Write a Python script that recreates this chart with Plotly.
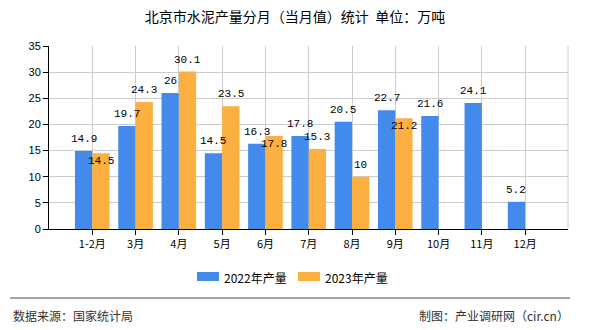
import plotly.graph_objects as go

categories = ["1-2月", "3月", "4月", "5月", "6月", "7月", "8月", "9月", "10月", "11月", "12月"]
y2022 = [14.9, 19.7, 26, 14.5, 16.3, 17.8, 20.5, 22.7, 21.6, 24.1, 5.2]
y2023 = [14.5, 24.3, 30.1, 23.5, 17.8, 15.3, 10, 21.2, None, None, None]
name2022 = "2022年产量"
name2023 = "2023年产量"

# label vertical shifts (px) for overlap avoidance
shift2022 = [12] * 11
shift2023 = [-8, 12, 12, 12, -8, 12, 12, -8, 12, 12, 12]

BLUE = "#428BEC"
ORANGE = "#FCB041"
CJK = "Noto Sans CJK SC"
MONO = "Liberation Mono"

L, R, T, B = 49, 568, 46, 229
W, H = R - L, B - T


def px(x):
    return (x - L) / W


def py(y):
    return (B - y) / H


fig = go.Figure()
fig.add_trace(go.Bar(x=categories, y=y2022, name=name2022, marker_color=BLUE, marker_line_width=0))
fig.add_trace(go.Bar(x=categories, y=y2023, name=name2023, marker_color=ORANGE, marker_line_width=0))

ann = []
for i, v in enumerate(y2022):
    if v is not None:
        ann.append(dict(x=i - 0.2, y=v, text=f"{v:g}", showarrow=False, yanchor="middle",
                        yshift=shift2022[i], font=dict(family=MONO, size=11, color="#000")))
for i, v in enumerate(y2023):
    if v is not None:
        ann.append(dict(x=i + 0.2, y=v, text=f"{v:g}", showarrow=False, yanchor="middle",
                        yshift=shift2023[i], font=dict(family=MONO, size=11, color="#000")))

ann.append(dict(xref="paper", yref="paper", x=px(11), y=py(315), xanchor="left", yanchor="middle",
                text="数据来源：国家统计局", showarrow=False, font=dict(family=CJK, size=12, color="#333")))
ann.append(dict(xref="paper", yref="paper", x=px(571), y=py(315), xanchor="right", yanchor="middle",
                text="制图：产业调研网（cir.cn）", showarrow=False, font=dict(family=CJK, size=12, color="#333")))

# manual legend
shapes = [
    dict(type="line", xref="paper", yref="paper", x0=1, x1=1, y0=0, y1=1, line=dict(color="#cccccc", width=1)),
    dict(type="line", xref="paper", yref="paper", x0=px(10), x1=px(570), y0=py(298), y1=py(298),
         line=dict(color="#888888", width=1.5)),
]
for (name, color, x0) in [(name2022, BLUE, 197), (name2023, ORANGE, 298)]:
    shapes.append(dict(type="rect", xref="paper", yref="paper", x0=px(x0), x1=px(x0 + 22),
                       y0=py(281), y1=py(272), fillcolor=color, line=dict(width=0)))
    ann.append(dict(xref="paper", yref="paper", x=px(x0 + 25), y=py(277), xanchor="left", yanchor="middle",
                    text=name, showarrow=False, font=dict(family=CJK, size=12, color="#000")))

fig.update_layout(
    width=590, height=330,
    margin=dict(l=L, r=590 - R, t=T, b=330 - B),
    paper_bgcolor="white", plot_bgcolor="white",
    title=dict(text="北京市水泥产量分月（当月值）统计  单位：万吨", x=0.5, xanchor="center",
               y=1 - 17/330, yanchor="middle", font=dict(family=CJK, size=14, color="#000")),
    barmode="group", bargap=0.2, bargroupgap=0,
    showlegend=False,
    annotations=ann,
    shapes=shapes,
)
fig.update_xaxes(type="category", range=[-1, 10.99], showgrid=True, gridcolor="#cccccc", gridwidth=1,
                 showline=True, linecolor="#000", linewidth=1, ticks="outside", ticklen=5, tickcolor="#000",
                 tickfont=dict(family=CJK, size=11, color="#000"), zeroline=False)
fig.update_yaxes(range=[0, 35], dtick=5, showgrid=True, gridcolor="#cccccc", gridwidth=1,
                 showline=True, linecolor="#000", linewidth=1, ticks="outside", ticklen=5, tickcolor="#000",
                 tickfont=dict(family="Liberation Sans", size=11, color="#000"), zeroline=False)

fig.write_html("out.html")
